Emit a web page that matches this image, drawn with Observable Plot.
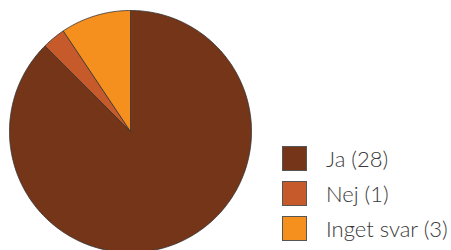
<!DOCTYPE html>
<html>
<head>
<meta charset="utf-8">
<script src="https://cdn.jsdelivr.net/npm/d3@7"></script>
<script src="https://cdn.jsdelivr.net/npm/@observablehq/plot@0.6"></script>
<style>
  html, body { margin: 0; padding: 0; background: #fff; }
  #wrap { position: relative; width: 451px; height: 250px; overflow: hidden; }
  #legend { position: absolute; left: 282px; top: 141px; font-family: Lato, "Open Sans", sans-serif; font-weight: 300; font-size: 22px; color: #3a3a3a; }
  .item { display: flex; align-items: center; height: 35px; }
  .sw { width: 25px; height: 25px; box-sizing: border-box; border: 1px solid #555; margin-right: 19px; }
</style>
</head>
<body>
<div id="wrap"></div>
<script>
const categories = ["Ja", "Nej", "Inget svar"];
const values = [28, 1, 3];
const colors = ["#743519", "#c65a2a", "#f5901f"];

const pie = d3.pie().sort(null).value(d => d.value)(categories.map((c, i) => ({label: c, value: values[i]})));
const pts = [];
for (const a of pie) {
  const n = Math.max(2, Math.ceil((a.endAngle - a.startAngle) / (Math.PI / 180)));
  pts.push({label: a.data.label, x: 0, y: 0});
  for (let k = 0; k <= n; k++) {
    const t = a.startAngle + (a.endAngle - a.startAngle) * k / n;
    pts.push({label: a.data.label, x: Math.sin(t), y: Math.cos(t)});
  }
  pts.push({label: a.data.label, x: 0, y: 0});
}

const chart = Plot.plot({
  width: 451,
  height: 250,
  margin: 0,
  x: {domain: [-1, 1], range: [9, 251], axis: null},
  y: {domain: [-1, 1], range: [252, 10], axis: null},
  color: {domain: categories, range: colors},
  marks: [
    Plot.line(pts, {x: "x", y: "y", z: "label", fill: "label", stroke: "#333", strokeWidth: 0.8, curve: "linear"})
  ]
});
const wrap = document.getElementById("wrap");
wrap.appendChild(chart);

const legend = document.createElement("div");
legend.id = "legend";
categories.forEach((c, i) => {
  const it = document.createElement("div");
  it.className = "item";
  const sw = document.createElement("div");
  sw.className = "sw";
  sw.style.background = colors[i];
  const tx = document.createElement("span");
  tx.textContent = `${c} (${values[i]})`;
  it.appendChild(sw);
  it.appendChild(tx);
  legend.appendChild(it);
});
wrap.appendChild(legend);
</script>
</body>
</html>
